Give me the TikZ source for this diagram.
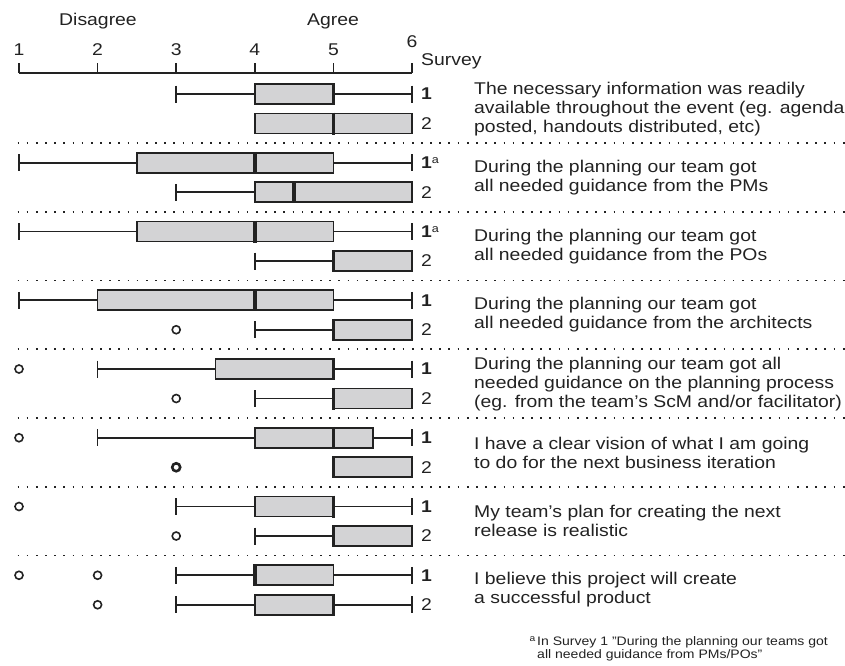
\documentclass[tikz,border=0pt]{standalone}
\usepackage{fontspec}
\setmainfont{Liberation Sans}[FakeStretch=1.14]
\definecolor{boxfill}{HTML}{D3D3D5}
\definecolor{ink}{HTML}{222222}
\newcommand\bodyfont{\fontsize{17}{19}\selectfont}
\newcommand\smallfont{\fontsize{12.3}{13.2}\selectfont}
\newcommand\supa{\raisebox{5pt}{\fontsize{11}{11}\selectfont\mdseries a}}
\newcommand\bx[4]{%
  \filldraw[boxst] ({xv(#2)},{#1-10}) rectangle ({xv(#4)},{#1+10});
  \draw[medst] ({xv(#3)},{#1-11}) -- ({xv(#3)},{#1+11});}
\newcommand\wk[3]{%
  \draw[whst] ({xv(#2)},{#1}) -- ({xv(#3)},{#1});
  \draw[whst] ({xv(#2)},{#1-8.5}) -- ({xv(#2)},{#1+8.5});}
\newcommand\ol[2]{\draw[olst] ({xv(#2)},{#1}) circle (4pt);}
\newcommand\sep[1]{\draw[sepst] (17.5,{#1}) -- (845,{#1});}
\begin{document}
\begin{tikzpicture}[x=1pt,y=-1pt,
  declare function={xv(\v)=19+(\v-1)*78.6;},
  boxst/.style={draw=ink,fill=boxfill,line width=1.7pt},
  medst/.style={draw=ink,line width=3.4pt},
  whst/.style={draw=ink,line width=1.6pt},
  olst/.style={draw=ink,line width=1.6pt},
  boldol/.style={draw=ink,line width=2.6pt},
  sepst/.style={draw=ink,line width=1.7pt,dash pattern=on 1.7pt off 7.47pt},
  axisst/.style={draw=ink,line width=1.6pt},
  txt/.style={text=ink,font=\bodyfont,inner sep=0pt},
  qtxt/.style={txt,anchor=west,align=left},
  lbl/.style={txt,anchor=base west},
  one/.style={txt,anchor=west,font=\bodyfont\bfseries},
  two/.style={txt,anchor=west}]
\useasboundingbox (0,0) rectangle (845,665);
% header
\node[txt,anchor=base] (dis) at (98,25) {Disagree};
\node[txt,anchor=base] (agr) at (333,25) {Agree};
\foreach \v in {1,...,5}{
  \node[txt,anchor=base] (tl\v) at ({xv(\v)},55) {\v};
  \draw[axisst] ({xv(\v)},73) -- ({xv(\v)},63);}
\node[txt,anchor=base] (tl6) at ({xv(6)},47) {6};
\draw[axisst] ({xv(6)},73) -- ({xv(6)},63);
\draw[axisst] ({xv(1)},73) -- ({xv(6)},73);
\node[lbl] (survey) at (421,65) {Survey};
% separators
\sep{143}\sep{211.75}\sep{280.5}\sep{349.25}\sep{418}\sep{486.75}\sep{555.5}
% group 1
\wk{94}{3}{4}\wk{94}{6}{5}\bx{94}{4}{5}{5}
\bx{123.5}{4}{5}{6}
% group 2
\wk{162.75}{1}{2.5}\wk{162.75}{6}{5}\bx{162.75}{2.5}{4}{5}
\wk{192.25}{3}{4}\bx{192.25}{4}{4.5}{6}
% group 3
\wk{231.5}{1}{2.5}\wk{231.5}{6}{5}\bx{231.5}{2.5}{4}{5}
\wk{261}{4}{5}\bx{261}{5}{5}{6}
% group 4
\wk{300.25}{1}{2}\wk{300.25}{6}{5}\bx{300.25}{2}{4}{5}
\ol{329.75}{3}\wk{329.75}{4}{5}\bx{329.75}{5}{5}{6}
% group 5
\ol{369}{1}\wk{369}{2}{3.5}\wk{369}{6}{5}\bx{369}{3.5}{5}{5}
\ol{398.5}{3}\wk{398.5}{4}{5}\bx{398.5}{5}{5}{6}
% group 6
\ol{437.75}{1}\wk{437.75}{2}{4}\wk{437.75}{6}{5.5}\bx{437.75}{4}{5}{5.5}
\draw[boldol] ({xv(3)},467.25) circle (4pt);\bx{467.25}{5}{5}{6}
% group 7
\ol{506.5}{1}\wk{506.5}{3}{4}\wk{506.5}{6}{5}\bx{506.5}{4}{5}{5}
\ol{536}{3}\wk{536}{4}{5}\bx{536}{5}{5}{6}
% group 8
\ol{575.25}{1}\ol{575.25}{2}\wk{575.25}{3}{4}\wk{575.25}{6}{5}\bx{575.25}{4}{4}{5}
\ol{604.75}{2}\wk{604.75}{3}{4}\wk{604.75}{6}{5}\bx{604.75}{4}{5}{5}
% survey labels
\node[one] (s1a) at (421,94) {1};
\node[two] (s1b) at (421,123.5) {2};
\node[one] (s2a) at (421,162.75) {1\supa};
\node[two] (s2b) at (421,192.25) {2};
\node[one] (s3a) at (421,231.5) {1\supa};
\node[two] (s3b) at (421,261) {2};
\node[one] (s4a) at (421,300.25) {1};
\node[two] (s4b) at (421,329.75) {2};
\node[one] (s5a) at (421,369) {1};
\node[two] (s5b) at (421,398.5) {2};
\node[one] (s6a) at (421,437.75) {1};
\node[two] (s6b) at (421,467.25) {2};
\node[one] (s7a) at (421,506.5) {1};
\node[two] (s7b) at (421,536) {2};
\node[one] (s8a) at (421,575.25) {1};
\node[two] (s8b) at (421,604.75) {2};
% question texts
\node[qtxt] (q1) at (474,108.75) {The necessary information was readily\\available throughout the event (eg. agenda\\posted, handouts distributed, etc)};
\node[qtxt] (q2) at (474,177.5) {During the planning our team got\\all needed guidance from the PMs};
\node[qtxt] (q3) at (474,246.25) {During the planning our team got\\all needed guidance from the POs};
\node[qtxt] (q4) at (474,315) {During the planning our team got\\all needed guidance from the architects};
\node[qtxt] (q5) at (474,383.75) {During the planning our team got all\\needed guidance on the planning process\\(eg. from the team's ScM and/or facilitator)};
\node[qtxt] (q6) at (474,452.5) {I have a clear vision of what I am going\\to do for the next business iteration};
\node[qtxt] (q7) at (474,521.25) {My team's plan for creating the next\\release is realistic};
\node[qtxt] (q8) at (474,590) {I believe this project will create\\a successful product};
% footnote
\node[text=ink,inner sep=0pt,anchor=base east,font=\fontsize{9}{9}\selectfont] (fnm) at (535.5,641) {a};
\node[text=ink,inner sep=0pt,anchor=base west,align=left,font=\smallfont] (fn) at (537,658.2) {In Survey 1 "During the planning our teams got\\all needed guidance from PMs/POs"};
\end{tikzpicture}
\end{document}
